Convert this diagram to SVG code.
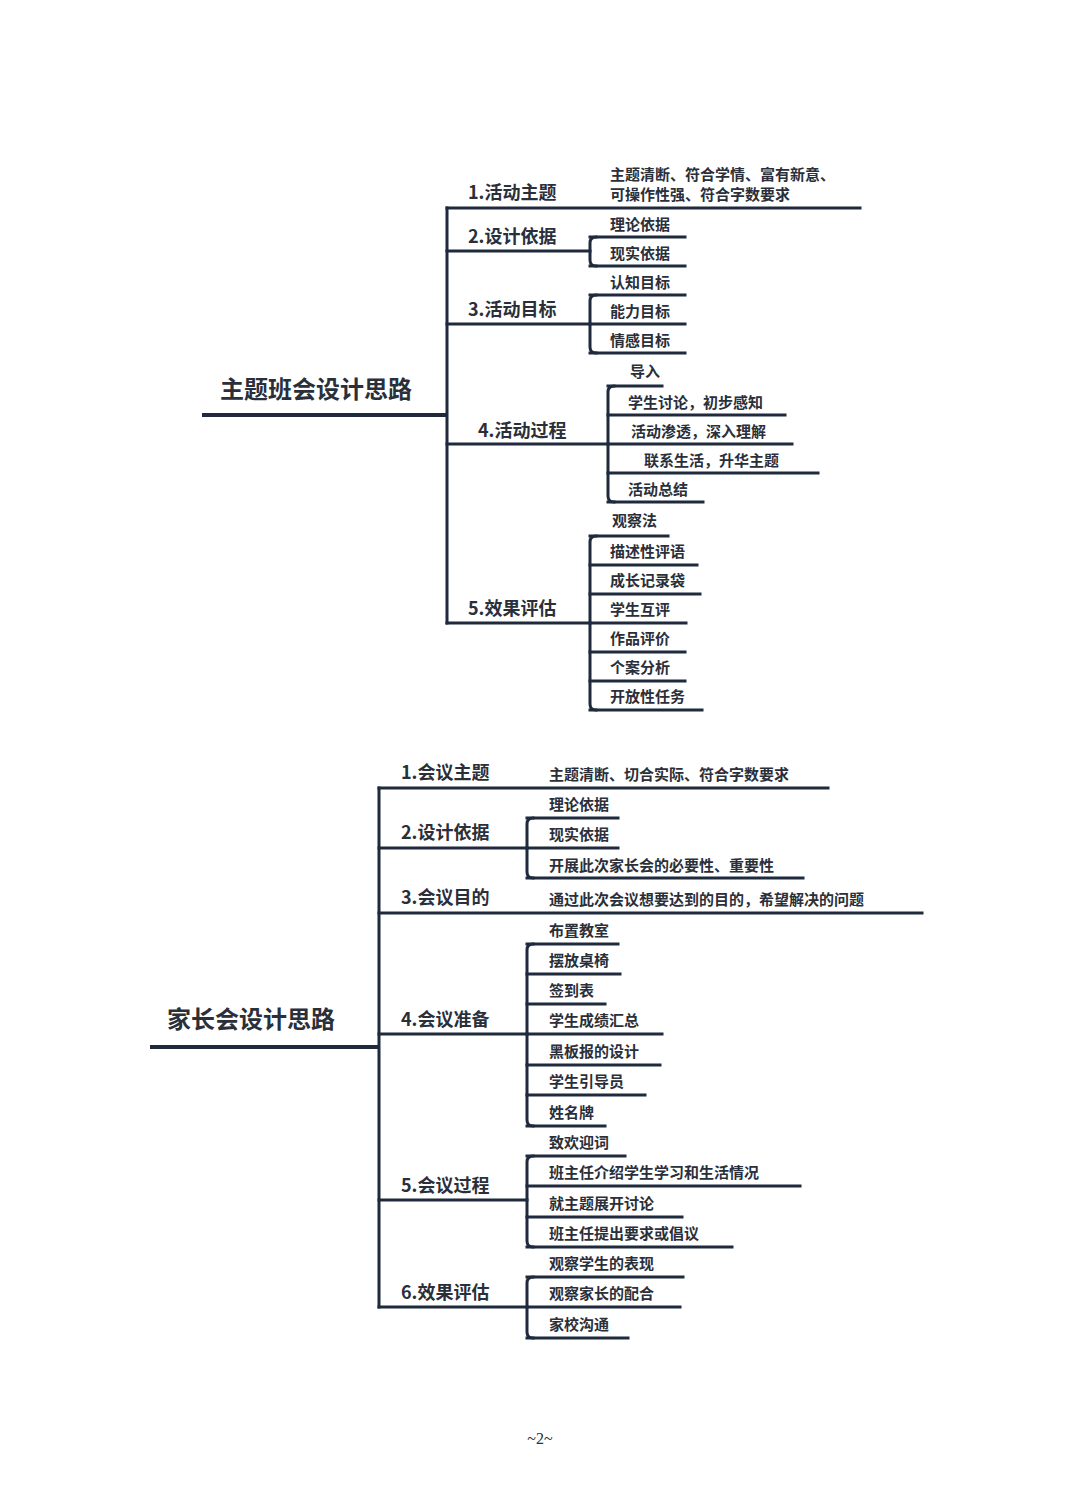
<svg xmlns="http://www.w3.org/2000/svg" width="1080" height="1504" viewBox="0 0 1080 1504">
<style>
text{font-family:"Noto Sans CJK SC","Noto Serif CJK SC",sans-serif;font-weight:bold;fill:#2a2f3a}
.r{font-size:24px}.b{font-size:18px}.c{font-size:15px}
.l{stroke:#1f2b3c;stroke-width:3;fill:none;stroke-linecap:square}
.rl{stroke:#1f2b3c;stroke-width:4;fill:none}
.f{font-family:"Liberation Serif",serif;font-weight:normal;font-size:16px}
</style>
<rect width="1080" height="1504" fill="#fff"/>
<g id="connectors">
<line class="rl" x1="202" y1="415" x2="447" y2="415"/>
<line class="l" x1="447" y1="208" x2="447" y2="623"/>
<line class="l" x1="447" y1="208" x2="860" y2="208"/>
<line class="l" x1="447" y1="251" x2="590" y2="251"/>
<path class="l" d="M596 237Q590 237 590 243V260Q590 266 596 266"/>
<line class="l" x1="590" y1="237" x2="685" y2="237"/><line class="l" x1="590" y1="266" x2="685" y2="266"/>
<line class="l" x1="447" y1="324" x2="590" y2="324"/>
<path class="l" d="M596 295Q590 295 590 301V347Q590 353 596 353"/>
<line class="l" x1="590" y1="295" x2="685" y2="295"/><line class="l" x1="590" y1="324" x2="685" y2="324"/><line class="l" x1="590" y1="353" x2="685" y2="353"/>
<line class="l" x1="447" y1="444" x2="608" y2="444"/>
<path class="l" d="M614 386Q608 386 608 392V496Q608 502 614 502"/>
<line class="l" x1="608" y1="386" x2="662" y2="386"/><line class="l" x1="608" y1="415" x2="785" y2="415"/><line class="l" x1="608" y1="444" x2="792" y2="444"/><line class="l" x1="608" y1="473" x2="818" y2="473"/><line class="l" x1="608" y1="502" x2="703" y2="502"/>
<line class="l" x1="447" y1="623" x2="590" y2="623"/>
<path class="l" d="M596 536Q590 536 590 542V704Q590 710 596 710"/>
<line class="l" x1="590" y1="536" x2="668" y2="536"/><line class="l" x1="590" y1="565" x2="697" y2="565"/><line class="l" x1="590" y1="594" x2="700" y2="594"/><line class="l" x1="590" y1="623" x2="686" y2="623"/><line class="l" x1="590" y1="652" x2="685" y2="652"/><line class="l" x1="590" y1="681" x2="685" y2="681"/><line class="l" x1="590" y1="710" x2="702" y2="710"/>

<line class="rl" x1="150" y1="1047" x2="379" y2="1047"/>
<line class="l" x1="379" y1="788" x2="379" y2="1307"/>
<line class="l" x1="379" y1="788" x2="828" y2="788"/>
<line class="l" x1="379" y1="848" x2="527" y2="848"/>
<path class="l" d="M533 818Q527 818 527 824V872Q527 878 533 878"/>
<line class="l" x1="527" y1="818" x2="618" y2="818"/><line class="l" x1="527" y1="848" x2="618" y2="848"/><line class="l" x1="527" y1="878" x2="803" y2="878"/>
<line class="l" x1="379" y1="913" x2="922" y2="913"/>
<line class="l" x1="379" y1="1034" x2="527" y2="1034"/>
<path class="l" d="M533 944Q527 944 527 950V1120Q527 1126 533 1126"/>
<line class="l" x1="527" y1="944" x2="618" y2="944"/><line class="l" x1="527" y1="974" x2="620" y2="974"/><line class="l" x1="527" y1="1004" x2="605" y2="1004"/><line class="l" x1="527" y1="1034" x2="662" y2="1034"/><line class="l" x1="527" y1="1065" x2="660" y2="1065"/><line class="l" x1="527" y1="1095" x2="645" y2="1095"/><line class="l" x1="527" y1="1126" x2="605" y2="1126"/>
<line class="l" x1="379" y1="1200" x2="527" y2="1200"/>
<path class="l" d="M533 1156Q527 1156 527 1162V1241Q527 1247 533 1247"/>
<line class="l" x1="527" y1="1156" x2="625" y2="1156"/><line class="l" x1="527" y1="1186" x2="800" y2="1186"/><line class="l" x1="527" y1="1217" x2="682" y2="1217"/><line class="l" x1="527" y1="1247" x2="732" y2="1247"/>
<line class="l" x1="379" y1="1307" x2="527" y2="1307"/>
<path class="l" d="M533 1277Q527 1277 527 1283V1332Q527 1338 533 1338"/>
<line class="l" x1="527" y1="1277" x2="683" y2="1277"/><line class="l" x1="527" y1="1307" x2="680" y2="1307"/><line class="l" x1="527" y1="1338" x2="628" y2="1338"/>
</g>
<g id="root1"><text class="r" x="220" y="398">主题班会设计思路</text></g>
<g id="t1"><text class="b" x="468" y="199">1.活动主题</text><text class="c" x="610" y="180">主题清断、符合学情、富有新意、</text><text class="c" x="610" y="200">可操作性强、符合字数要求</text></g>
<g id="t2"><text class="b" x="468" y="243">2.设计依据</text><text class="c" x="610" y="230">理论依据</text><text class="c" x="610" y="259">现实依据</text></g>
<g id="t3"><text class="b" x="468" y="316">3.活动目标</text><text class="c" x="610" y="288">认知目标</text><text class="c" x="610" y="317">能力目标</text><text class="c" x="610" y="346">情感目标</text></g>
<g id="t4"><text class="b" x="478" y="437">4.活动过程</text><text class="c" x="630" y="377">导入</text><text class="c" x="628" y="408">学生讨论，初步感知</text><text class="c" x="631" y="437">活动渗透，深入理解</text><text class="c" x="644" y="466">联系生活，升华主题</text><text class="c" x="628" y="495">活动总结</text></g>
<g id="t5"><text class="b" x="468" y="615">5.效果评估</text><text class="c" x="612" y="526">观察法</text><text class="c" x="610" y="557">描述性评语</text><text class="c" x="610" y="586">成长记录袋</text><text class="c" x="610" y="615">学生互评</text><text class="c" x="610" y="644">作品评价</text><text class="c" x="610" y="673">个案分析</text><text class="c" x="610" y="702">开放性任务</text></g>
<g id="root2"><text class="r" x="167" y="1028">家长会设计思路</text></g>
<g id="p1"><text class="b" x="401" y="779">1.会议主题</text><text class="c" x="549" y="780">主题清断、切合实际、符合字数要求</text></g>
<g id="p2"><text class="b" x="401" y="839">2.设计依据</text><text class="c" x="549" y="810">理论依据</text><text class="c" x="549" y="840">现实依据</text><text class="c" x="549" y="871">开展此次家长会的必要性、重要性</text></g>
<g id="p3"><text class="b" x="401" y="904">3.会议目的</text><text class="c" x="549" y="905">通过此次会议想要达到的目的，希望解决的问题</text></g>
<g id="p4"><text class="b" x="401" y="1026">4.会议准备</text><text class="c" x="549" y="936">布置教室</text><text class="c" x="549" y="966">摆放桌椅</text><text class="c" x="549" y="996">签到表</text><text class="c" x="549" y="1026">学生成绩汇总</text><text class="c" x="549" y="1057">黑板报的设计</text><text class="c" x="549" y="1087">学生引导员</text><text class="c" x="549" y="1118">姓名牌</text></g>
<g id="p5"><text class="b" x="401" y="1192">5.会议过程</text><text class="c" x="549" y="1148">致欢迎词</text><text class="c" x="549" y="1178">班主任介绍学生学习和生活情况</text><text class="c" x="549" y="1209">就主题展开讨论</text><text class="c" x="549" y="1239">班主任提出要求或倡议</text></g>
<g id="p6"><text class="b" x="401" y="1299">6.效果评估</text><text class="c" x="549" y="1269">观察学生的表现</text><text class="c" x="549" y="1299">观察家长的配合</text><text class="c" x="549" y="1330">家校沟通</text></g>
<text class="f" x="540" y="1444" text-anchor="middle">~2~</text>
</svg>
